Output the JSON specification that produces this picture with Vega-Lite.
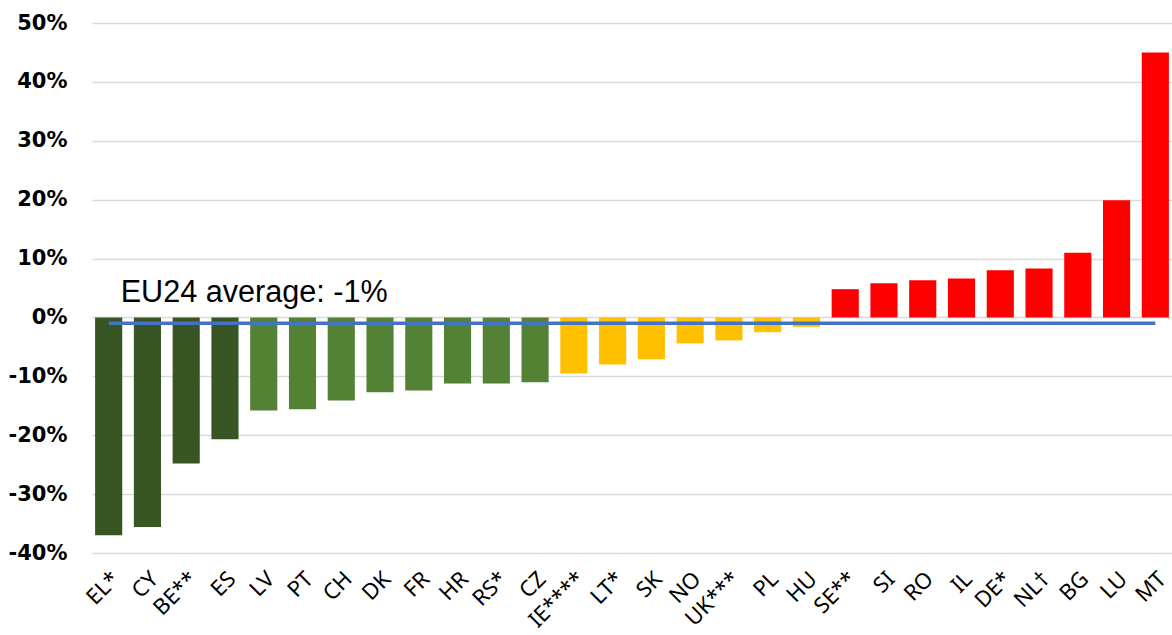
{
  "$schema": "https://vega.github.io/schema/vega-lite/v6.json",
  "width": 1080,
  "height": 530,
  "autosize": {"type": "none"},
  "padding": {"left": 92, "top": 23, "right": 0, "bottom": 82},
  "background": "white",
  "config": {"axis": {"domain": false, "ticks": false}, "view": {"stroke": null}},
  "datasets": {
    "bars": [
      {"country": "EL*", "value": -37.0, "group": "g1"},
      {"country": "CY", "value": -35.6, "group": "g1"},
      {"country": "BE**", "value": -24.8, "group": "g1"},
      {"country": "ES", "value": -20.7, "group": "g1"},
      {"country": "LV", "value": -15.8, "group": "g2"},
      {"country": "PT", "value": -15.6, "group": "g2"},
      {"country": "CH", "value": -14.1, "group": "g2"},
      {"country": "DK", "value": -12.7, "group": "g2"},
      {"country": "FR", "value": -12.4, "group": "g2"},
      {"country": "HR", "value": -11.2, "group": "g2"},
      {"country": "RS*", "value": -11.2, "group": "g2"},
      {"country": "CZ", "value": -11.0, "group": "g2"},
      {"country": "IE****", "value": -9.5, "group": "g3"},
      {"country": "LT*", "value": -8.0, "group": "g3"},
      {"country": "SK", "value": -7.1, "group": "g3"},
      {"country": "NO", "value": -4.4, "group": "g3"},
      {"country": "UK***", "value": -3.9, "group": "g3"},
      {"country": "PL", "value": -2.5, "group": "g3"},
      {"country": "HU", "value": -1.6, "group": "g3"},
      {"country": "SE**", "value": 4.8, "group": "g4"},
      {"country": "SI", "value": 5.8, "group": "g4"},
      {"country": "RO", "value": 6.3, "group": "g4"},
      {"country": "IL", "value": 6.6, "group": "g4"},
      {"country": "DE*", "value": 8.0, "group": "g4"},
      {"country": "NL†", "value": 8.3, "group": "g4"},
      {"country": "BG", "value": 11.0, "group": "g4"},
      {"country": "LU", "value": 19.9, "group": "g4"},
      {"country": "MT", "value": 45.0, "group": "g4"}
    ],
    "avg": [
      {"country": "EL*", "country2": "MT", "value": -1, "label": "EU24 average: -1%", "labelY": 2.55}
    ]
  },
  "encoding": {
    "x": {
      "field": "country",
      "type": "nominal",
      "scale": {
        "domain": ["EL*", "CY", "BE**", "ES", "LV", "PT", "CH", "DK", "FR", "HR", "RS*", "CZ", "IE****", "LT*", "SK", "NO", "UK***", "PL", "HU", "SE**", "SI", "RO", "IL", "DE*", "NL†", "BG", "LU", "MT"],
        "paddingInner": 0.3,
        "paddingOuter": 0.08
      },
      "axis": {
        "title": null,
        "labelAngle": -45,
        "labelAlign": "right",
        "labelBaseline": "top",
        "labelFont": "Noto Sans",
        "labelFontSize": 22,
        "labelColor": "#000000",
        "labelPadding": 15,
        "labelOverlap": false,
        "grid": false
      }
    }
  },
  "layer": [
    {
      "data": {"name": "bars"},
      "mark": {"type": "bar"},
      "encoding": {
        "y": {
          "field": "value",
          "type": "quantitative",
          "scale": {"domain": [-40, 50], "nice": false},
          "axis": {
            "title": null,
            "values": [-40, -30, -20, -10, 0, 10, 20, 30, 40, 50],
            "labelExpr": "datum.value + '%'",
            "labelFont": "DejaVu Sans",
            "labelFontSize": 21,
            "labelFontWeight": "bold",
            "labelColor": "#000000",
            "labelPadding": 25,
            "grid": true,
            "gridColor": "#D9D9D9",
            "gridWidth": 1.5
          }
        },
        "color": {
          "field": "group",
          "type": "nominal",
          "scale": {"domain": ["g1", "g2", "g3", "g4"], "range": ["#375623", "#548235", "#FFC000", "#FF0000"]},
          "legend": null
        }
      }
    },
    {
      "data": {"name": "avg"},
      "mark": {"type": "rule", "color": "#4472C4", "strokeWidth": 3.5},
      "encoding": {
        "x2": {"field": "country2"},
        "y": {"field": "value", "type": "quantitative"}
      }
    },
    {
      "data": {"name": "avg"},
      "mark": {"type": "text", "align": "left", "baseline": "alphabetic", "dx": 12, "font": "Liberation Sans", "fontSize": 30.6, "color": "#000000"},
      "encoding": {
        "y": {"field": "labelY", "type": "quantitative"},
        "text": {"field": "label"}
      }
    }
  ]
}
